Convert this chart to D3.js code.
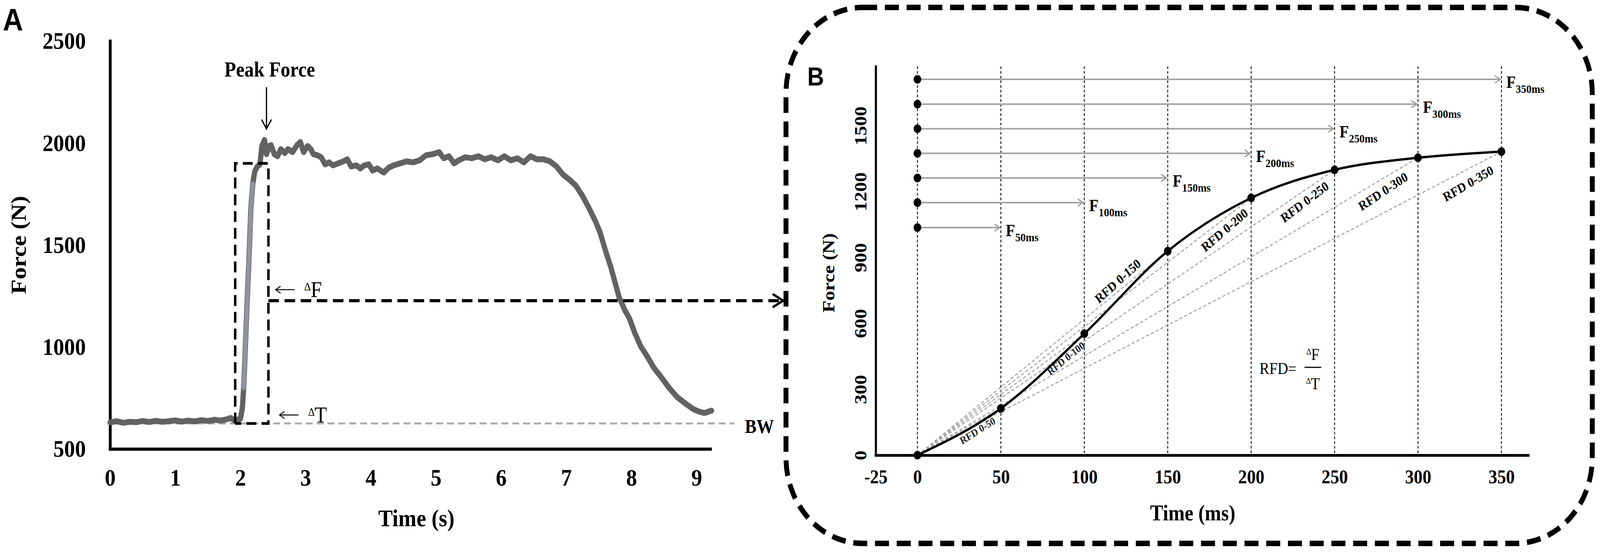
<!DOCTYPE html>
<html lang="en">
<head>
<meta charset="UTF-8">
<title>Force-time curve and RFD</title>
<script src="https://cdn.jsdelivr.net/npm/d3@7"></script>
<style>
  html, body { margin: 0; padding: 0; background: #fff; overflow: hidden; }
  svg { display: block; width: 100vw; height: 100vh; }
</style>
</head>
<body>
<script>
'use strict';

// ---------- panel A : force trace (s, N) ----------
const traceTime = [0.00, 0.10, 0.20, 0.30, 0.40, 0.50, 0.60, 0.70, 0.80, 0.90,
  1.00, 1.10, 1.20, 1.30, 1.40, 1.50, 1.60, 1.70, 1.80, 1.85, 1.90, 1.95,
  2.00, 2.03, 2.05, 2.07, 2.10, 2.13, 2.16, 2.19, 2.22, 2.26, 2.30, 2.33, 2.37,
  2.40, 2.44, 2.47, 2.52, 2.57, 2.62, 2.68, 2.73, 2.80, 2.87, 2.92, 2.97,
  3.03, 3.08, 3.12, 3.18, 3.24, 3.30, 3.36, 3.42, 3.50, 3.58, 3.64, 3.70,
  3.78, 3.84, 3.90, 3.97, 4.03, 4.10, 4.20, 4.28, 4.35, 4.45, 4.55, 4.65,
  4.75, 4.85, 4.95, 5.05, 5.12, 5.20, 5.28, 5.35, 5.45, 5.55, 5.65, 5.75,
  5.85, 5.95, 6.05, 6.15, 6.25, 6.35, 6.45, 6.55, 6.65, 6.75, 6.85, 6.95,
  7.05, 7.15, 7.25, 7.35, 7.45, 7.52, 7.60, 7.69, 7.75, 7.81, 7.90, 7.97,
  8.05, 8.14, 8.25, 8.34, 8.45, 8.59, 8.70, 8.84, 8.95, 9.04, 9.12, 9.23];
const traceForce = [630, 636, 628, 633, 631, 637, 632, 638, 633, 636,
  640, 634, 639, 635, 641, 637, 643, 639, 646, 652, 641, 643,
  648, 700, 800, 950, 1200, 1420, 1680, 1800, 1860, 1885, 1895, 1985, 2015,
  1945, 1985, 1990, 1945, 1935, 1970, 1950, 1970, 1955, 1990, 2005, 1955,
  1985, 1970, 1945, 1940, 1930, 1895, 1905, 1890, 1900, 1910, 1920, 1885,
  1890, 1875, 1890, 1895, 1865, 1875, 1855, 1880, 1890, 1900, 1910, 1905,
  1915, 1940, 1945, 1955, 1925, 1935, 1900, 1915, 1930, 1925, 1935, 1920,
  1930, 1915, 1935, 1915, 1925, 1905, 1935, 1920, 1920, 1910, 1885, 1845,
  1820, 1790, 1740, 1680, 1615, 1560, 1475, 1385, 1315, 1245, 1180, 1140,
  1070, 1005, 950, 900, 855, 795, 755, 720, 695, 683, 676, 688];
const aTimeTicks = [0, 1, 2, 3, 4, 5, 6, 7, 8, 9];
const aForceTicks = [500, 1000, 1500, 2000, 2500];
const bodyWeight = 625;
const windowTimes = [1.92, 2.43];
const windowTop = 1900;
const deltaFLevel = 1227;
const peakTime = 2.40;

// ---------- panel B : RFD schematic (ms, N) ----------
const bTimes = [0, 50, 100, 150, 200, 250, 300, 350];
const bForce = [0, 213, 553, 929, 1171, 1299, 1354, 1382];
const bTimeTicks = [-25, 0, 50, 100, 150, 200, 250, 300, 350];
const bForceTicks = [0, 300, 600, 900, 1200, 1500];
const fLevels = [1036, 1150, 1262, 1374, 1486, 1598, 1711];
const rfdLabelT = [36, 89, 120, 184, 232, 279, 330];
const rfdLabelF = [112, 441, 793, 1025, 1153, 1201, 1237];

const W = 4564, H = 1414;
const serif = '"Liberation Serif", "Times New Roman", serif';
const sans = '"Liberation Sans", Arial, sans-serif';
const plain = d => String(d);

const svg = d3.select('body').append('svg')
  .attr('viewBox', [0, 0, W, H])
  .attr('preserveAspectRatio', 'none');

// arrow heads
const defs = svg.append('defs');
function chevron(id, len, half, color, width) {
  defs.append('marker')
    .attr('id', id)
    .attr('markerUnits', 'userSpaceOnUse')
    .attr('viewBox', [-len - width, -half - width, len + 2 * width, 2 * half + 2 * width])
    .attr('markerWidth', len + 2 * width)
    .attr('markerHeight', 2 * half + 2 * width)
    .attr('refX', 0).attr('refY', 0)
    .attr('orient', 'auto')
    .append('path')
    .attr('d', `M${-len},${-half}L0,0L${-len},${half}`)
    .attr('fill', 'none')
    .attr('stroke', color)
    .attr('stroke-width', width)
    .attr('stroke-linejoin', 'miter');
}
chevron('arrGray', 16, 9, '#9a9a9a', 3);
chevron('arrBig', 30, 17, '#000', 6);
chevron('arrPeak', 24, 14, '#000', 3.5);
chevron('arrSmall', 14, 9, '#000', 2.5);

// =============== PANEL A ===============
const xA = d3.scaleLinear().domain([0, 9.21]).range([314, 2026]);
const yA = d3.scaleLinear().domain([500, 2500]).range([1150, 105]);
const gA = svg.append('g');

function styleAxis(g, size, width) {
  g.select('.domain').attr('stroke', '#000').attr('stroke-width', width)
    .attr('stroke-linecap', 'square');
  g.selectAll('.tick line').remove();
  g.selectAll('.tick text')
    .attr('fill', '#000')
    .attr('font-family', serif)
    .attr('font-weight', 'bold')
    .attr('font-size', size);
}

gA.append('g')
  .attr('transform', `translate(0,${yA(500)})`)
  .call(d3.axisBottom(xA).tickValues(aTimeTicks).tickFormat(plain)
    .tickSize(0).tickSizeOuter(0).tickPadding(50))
  .call(g => styleAxis(g, 62, 8));

gA.append('g')
  .attr('transform', `translate(${xA(0)},0)`)
  .call(d3.axisLeft(yA).tickValues(aForceTicks).tickFormat(plain)
    .tickSize(0).tickSizeOuter(0).tickPadding(69))
  .call(g => styleAxis(g, 62, 8));

// body weight line
gA.append('line')
  .attr('x1', xA(0)).attr('x2', xA(9.58))
  .attr('y1', yA(bodyWeight)).attr('y2', yA(bodyWeight))
  .attr('stroke', '#ababab').attr('stroke-width', 5)
  .attr('stroke-dasharray', '20,11');

// force trace
const trace = traceTime.map((t, i) => [t, traceForce[i]]);
const lineA = d3.line().x(d => xA(d[0])).y(d => yA(d[1]));
gA.append('path')
  .datum(trace)
  .attr('d', lineA)
  .attr('fill', 'none')
  .attr('stroke', '#626262')
  .attr('stroke-width', 15)
  .attr('stroke-linejoin', 'round')
  .attr('stroke-linecap', 'round');
gA.append('path')
  .datum(trace.filter(d => d[0] >= 2.04 && d[0] <= 2.19))
  .attr('d', lineA)
  .attr('fill', 'none')
  .attr('stroke', '#8f95a0')
  .attr('stroke-width', 12)
  .attr('stroke-linecap', 'round');

// ΔT window (dashed box)
gA.append('path')
  .attr('d', d3.line()([
    [xA(windowTimes[0]), yA(bodyWeight)],
    [xA(windowTimes[0]), yA(windowTop)],
    [xA(windowTimes[1]), yA(windowTop)],
    [xA(windowTimes[1]), yA(bodyWeight)],
    [xA(windowTimes[0]), yA(bodyWeight)]
  ]))
  .attr('fill', 'none')
  .attr('stroke', '#000')
  .attr('stroke-width', 7)
  .attr('stroke-dasharray', '28,15');

// ΔF arrow to panel B
const boxB = { x: 2242, y: 19, w: 2300, h: 1373, r: 220 };
gA.append('line')
  .attr('x1', xA(windowTimes[1])).attr('x2', boxB.x - 8)
  .attr('y1', yA(deltaFLevel)).attr('y2', yA(deltaFLevel))
  .attr('stroke', '#000').attr('stroke-width', 8)
  .attr('stroke-dasharray', '30,16')
  .attr('marker-end', 'url(#arrBig)');

// peak force annotation
gA.append('text')
  .attr('x', xA(2.45)).attr('y', yA(2326))
  .attr('text-anchor', 'middle')
  .attr('font-family', serif).attr('font-weight', 'bold').attr('font-size', 54)
  .text('Peak Force');
gA.append('line')
  .attr('x1', xA(peakTime)).attr('x2', xA(peakTime))
  .attr('y1', yA(2274)).attr('y2', yA(2069))
  .attr('stroke', '#000').attr('stroke-width', 3.5)
  .attr('marker-end', 'url(#arrPeak)');

// ΔF / ΔT labels with small left arrows
function deltaLabel(g, t0, f, letter, size) {
  const x0 = xA(t0), y = yA(f);
  g.append('line')
    .attr('x1', x0 + 56).attr('x2', x0 + 2)
    .attr('y1', y - size * 0.33).attr('y2', y - size * 0.33)
    .attr('stroke', '#000').attr('stroke-width', 2.5)
    .attr('marker-end', 'url(#arrSmall)');
  const t = g.append('text')
    .attr('x', x0 + 84).attr('y', y)
    .attr('font-family', serif).attr('font-size', size);
  t.append('tspan').attr('font-size', size * 0.5).attr('dy', -size * 0.3).text('\u2206');
  t.append('tspan').attr('dy', size * 0.3).text(letter);
}
deltaLabel(gA, 2.53, 1244, 'F', 58);
deltaLabel(gA, 2.59, 630, 'T', 58);

gA.append('text')
  .attr('x', xA(9.74)).attr('y', yA(bodyWeight) + 24)
  .attr('font-family', serif).attr('font-weight', 'bold').attr('font-size', 50)
  .text('BW');

// axis titles A
gA.append('text')
  .attr('transform', `translate(52,${yA(1500)}) rotate(-90)`)
  .attr('text-anchor', 'middle').attr('dy', '0.35em')
  .attr('font-family', serif).attr('font-weight', 'bold').attr('font-size', 62)
  .text('Force (N)');
gA.append('text')
  .attr('x', xA(4.7)).attr('y', 1348)
  .attr('text-anchor', 'middle')
  .attr('font-family', serif).attr('font-weight', 'bold').attr('font-size', 62)
  .text('Time (s)');

svg.append('text')
  .attr('x', 8).attr('y', 78)
  .attr('font-family', sans).attr('font-weight', 'bold').attr('font-size', 80)
  .text('A');

// =============== PANEL B ===============
svg.append('rect')
  .attr('x', boxB.x).attr('y', boxB.y)
  .attr('width', boxB.w).attr('height', boxB.h)
  .attr('rx', boxB.r).attr('ry', boxB.r)
  .attr('fill', 'none')
  .attr('stroke', '#000').attr('stroke-width', 14)
  .attr('stroke-dasharray', '40,22');

svg.append('text')
  .attr('x', 2303).attr('y', 219)
  .attr('font-family', sans).attr('font-weight', 'bold').attr('font-size', 66)
  .text('B');

const xB = d3.scaleLinear().domain([-25, 366]).range([2498, 4359]);
const yB = d3.scaleLinear().domain([0, 1770]).range([1166, 170]);
const gB = svg.append('g');

// vertical dashed guides
gB.selectAll('line.guide')
  .data(bTimes)
  .join('line')
  .attr('class', 'guide')
  .attr('x1', d => xB(d)).attr('x2', d => xB(d))
  .attr('y1', yB(1770)).attr('y2', yB(0))
  .attr('stroke', '#111').attr('stroke-width', 2.5)
  .attr('stroke-dasharray', '7,5');

// axes B
gB.append('g')
  .attr('transform', `translate(0,${yB(0)})`)
  .call(d3.axisBottom(xB).tickValues(bTimeTicks).tickFormat(plain)
    .tickSize(0).tickSizeOuter(0).tickPadding(37))
  .call(g => styleAxis(g, 50, 7));

gB.append('g')
  .attr('transform', `translate(${xB(-25)},0)`)
  .call(d3.axisLeft(yB).tickValues(bForceTicks).tickFormat(plain)
    .tickSize(0).tickSizeOuter(0))
  .call(g => {
    styleAxis(g, 50, 6);
    g.selectAll('.tick text')
      .attr('transform', 'rotate(-90)')
      .attr('text-anchor', 'middle')
      .attr('x', 0).attr('y', -43).attr('dy', '0.33em');
  });

// RFD chords from the origin
const chordIdx = d3.range(1, bTimes.length);
gB.selectAll('line.chord')
  .data(chordIdx)
  .join('line')
  .attr('class', 'chord')
  .attr('x1', xB(0)).attr('y1', yB(0))
  .attr('x2', i => xB(bTimes[i])).attr('y2', i => yB(bForce[i]))
  .attr('stroke', '#a9a9a9').attr('stroke-width', 3)
  .attr('stroke-dasharray', '9,6');

// horizontal F arrows
gB.selectAll('line.farrow')
  .data(fLevels)
  .join('line')
  .attr('class', 'farrow')
  .attr('x1', xB(0))
  .attr('x2', (d, i) => xB(bTimes[i + 1]) - 3)
  .attr('y1', d => yB(d)).attr('y2', d => yB(d))
  .attr('stroke', '#a2a2a2').attr('stroke-width', 4)
  .attr('marker-end', 'url(#arrGray)');

gB.selectAll('circle.fdot')
  .data(fLevels)
  .join('circle')
  .attr('class', 'fdot')
  .attr('cx', xB(0)).attr('cy', d => yB(d)).attr('r', 11)
  .attr('fill', '#000');

const fLab = gB.selectAll('text.flab')
  .data(fLevels)
  .join('text')
  .attr('class', 'flab')
  .attr('x', (d, i) => xB(bTimes[i + 1]) + 14)
  .attr('y', d => yB(d) + 22)
  .attr('font-family', serif).attr('font-weight', 'bold').attr('font-size', 44);
fLab.append('tspan').text('F');
fLab.append('tspan').attr('font-size', 30).attr('dy', 13).text((d, i) => bTimes[i + 1] + 'ms');

// force-time curve
const curveB = bTimes.map((t, i) => [t, bForce[i]]);
gB.append('path')
  .datum(curveB)
  .attr('d', d3.line().x(d => xB(d[0])).y(d => yB(d[1])).curve(d3.curveMonotoneX))
  .attr('fill', 'none')
  .attr('stroke', '#000').attr('stroke-width', 6);

gB.selectAll('circle.pt')
  .data(curveB)
  .join('circle')
  .attr('class', 'pt')
  .attr('cx', d => xB(d[0])).attr('cy', d => yB(d[1])).attr('r', 11)
  .attr('fill', '#000');

// RFD labels along the chords
gB.selectAll('text.rfd')
  .data(chordIdx)
  .join('text')
  .attr('class', 'rfd')
  .attr('transform', i => {
    const a = Math.atan2(yB(bForce[i]) - yB(0), xB(bTimes[i]) - xB(0)) * 180 / Math.PI - 3;
    return `translate(${xB(rfdLabelT[i - 1])},${yB(rfdLabelF[i - 1])}) rotate(${a})`;
  })
  .attr('text-anchor', 'middle').attr('dy', '0.35em')
  .attr('font-family', serif).attr('font-weight', 'bold')
  .attr('font-size', i => (i <= 2 ? 27 : 34))
  .attr('fill', i => (i <= 2 ? '#222' : '#000'))
  .text(i => 'RFD 0-' + bTimes[i]);

// RFD formula
gB.append('text')
  .attr('x', xB(205)).attr('y', yB(394) + 14)
  .attr('font-family', serif).attr('font-size', 42)
  .text('RFD=');
function fracPart(y, letter) {
  const t = gB.append('text')
    .attr('x', xB(237)).attr('y', y)
    .attr('text-anchor', 'middle')
    .attr('font-family', serif).attr('font-size', 42);
  t.append('tspan').attr('font-size', 22).attr('dy', -14).text('\u2206');
  t.append('tspan').attr('dy', 14).text(letter);
}
fracPart(yB(434), 'F');
fracPart(yB(300), 'T');
gB.append('line')
  .attr('x1', xB(232)).attr('x2', xB(242))
  .attr('y1', yB(400)).attr('y2', yB(400))
  .attr('stroke', '#000').attr('stroke-width', 3);

// axis titles B
gB.append('text')
  .attr('transform', `translate(2362,${yB(830)}) rotate(-90)`)
  .attr('text-anchor', 'middle').attr('dy', '0.35em')
  .attr('font-family', serif).attr('font-weight', 'bold').attr('font-size', 50)
  .text('Force (N)');
gB.append('text')
  .attr('x', xB(165)).attr('y', 1333)
  .attr('text-anchor', 'middle')
  .attr('font-family', serif).attr('font-weight', 'bold').attr('font-size', 56)
  .text('Time (ms)');
</script>
</body>
</html>
